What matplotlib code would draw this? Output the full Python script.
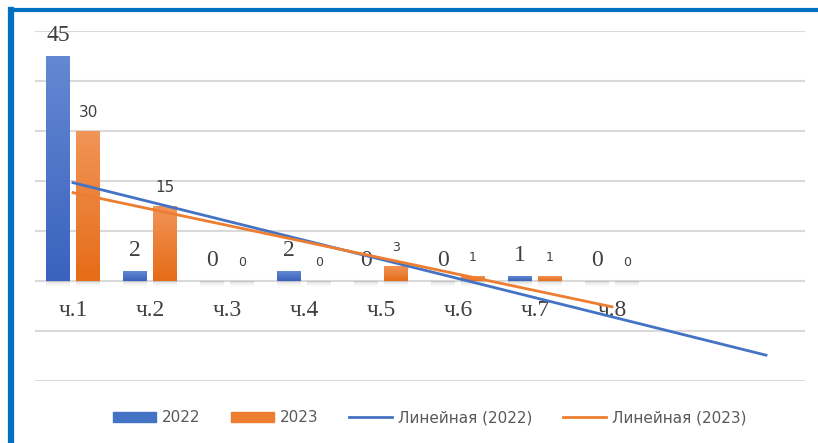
import numpy as np
import matplotlib.pyplot as plt
from matplotlib.colors import LinearSegmentedColormap
from matplotlib.patches import Patch
from matplotlib.lines import Line2D
from matplotlib.transforms import offset_copy

# данные
cats = ["ч.1", "ч.2", "ч.3", "ч.4", "ч.5", "ч.6", "ч.7", "ч.8"]
v2022 = [45, 2, 0, 2, 0, 0, 1, 0]
v2023 = [30, 15, 0, 0, 3, 1, 1, 0]
names = ["2022", "2023", "Линейная (2022)", "Линейная (2023)"]

blue, orange = "#4472C4", "#ED7D31"
cm_blue = LinearSegmentedColormap.from_list("b", ["#3A62BE", "#6488D2"])
cm_orange = LinearSegmentedColormap.from_list("o", ["#E66C17", "#F19457"])
cm_shadow = LinearSegmentedColormap.from_list("s", [(0.8, 0.8, 0.8, 0.0), (0.6, 0.6, 0.6, 0.35)])

fig = plt.figure(figsize=(8.18, 4.43), dpi=100)
ax = fig.add_axes([34.5/818, 62/443, 770/818, 350/443])
for s in ax.spines.values():
    s.set_visible(False)
ax.set_xticks([])
ax.set_yticks(np.arange(-20, 51, 10))
ax.set_yticklabels([])
ax.tick_params(length=0)
ax.grid(axis="y", color="#D9D9D9", lw=1.5)
ax.set_axisbelow(True)

x = np.arange(len(cats))
w = 0.31
grad = np.linspace(0, 1, 100).reshape(-1, 1)

def gbar(xc, h, cmap):
    # тень под столбиком
    ax.imshow(np.linspace(0, 1, 20).reshape(-1, 1), extent=(xc - w/2, xc + w/2, -1.3, -0.1),
              origin="lower", aspect="auto", cmap=cm_shadow, zorder=2)
    if h > 0:
        ax.imshow(grad, extent=(xc - w/2, xc + w/2, 0, h), origin="lower",
                  aspect="auto", cmap=cmap, zorder=3)

for i in range(len(cats)):
    gbar(x[i] - 0.195, v2022[i], cm_blue)
    gbar(x[i] + 0.195, v2023[i], cm_orange)
    ax.annotate(str(v2022[i]), (x[i] - 0.195, v2022[i]), xytext=(0, 15),
                textcoords="offset points", ha="center", va="center",
                family="Liberation Serif", size=17, color="#404040")
    ax.annotate(str(v2023[i]), (x[i] + 0.195, v2023[i]), xytext=(0, 13),
                textcoords="offset points", ha="center", va="center",
                family="DejaVu Sans", size=11 if v2023[i] >= 10 else 9, color="#404040")
    ax.text(x[i], 0, cats[i], transform=offset_copy(ax.transData, fig=fig, y=-29, units="dots"),
            ha="center", va="center", family="Liberation Serif", size=17, color="#404040")

# линейные тренды (2022 с прогнозом на 2 периода вперёд)
xn = np.arange(1, len(cats) + 1)
k1, b1 = np.polyfit(xn, v2022, 1)
k2, b2 = np.polyfit(xn, v2023, 1)
t1 = np.array([1, len(cats) + 2])
t2 = np.array([1, len(cats)])
ax.plot(t1 - 1, k1*t1 + b1, color=blue, lw=2, zorder=4)
ax.plot(t2 - 1, k2*t2 + b2, color=orange, lw=2, zorder=4)
ax.set_xlim(-0.5, 9.5)
ax.set_ylim(-20, 50)

handles = [Patch(color=blue), Patch(color=orange),
           Line2D([], [], color=blue, lw=2), Line2D([], [], color=orange, lw=2)]
fig.legend(handles, names, loc="center", bbox_to_anchor=(430/818, 25/443), ncol=4,
           frameon=False, fontsize=11, handlelength=2.8, handleheight=0.6, handletextpad=0.4,
           columnspacing=2.0, labelcolor="#595959")

# синяя рамка
fig.add_artist(Line2D([11/818, 1], [1 - 10/443, 1 - 10/443], color="#0070C0", lw=3))
fig.add_artist(Line2D([11/818, 11/818], [0, 1 - 10/443], color="#0070C0", lw=4.5))

plt.savefig("out.png", dpi=100)
